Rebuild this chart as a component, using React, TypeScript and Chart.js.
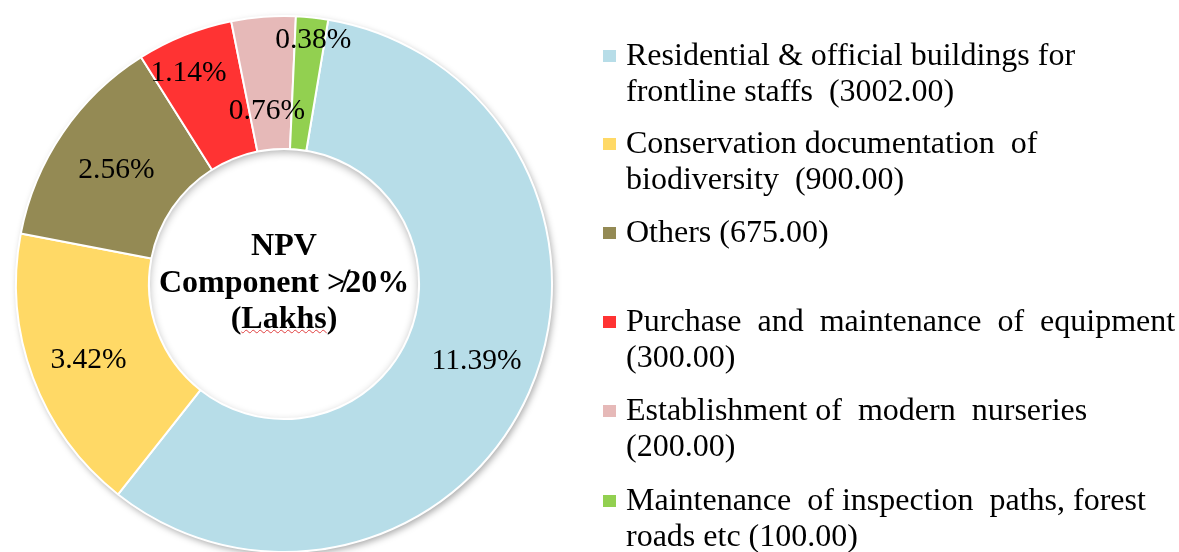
import React, { useEffect, useRef } from "react";
import { Chart, registerables } from "chart.js";

Chart.register(...registerables);

// ---------- data ----------
const categories = [
  "Residential & official buildings for\nfrontline staffs  ",
  "Conservation documentation  of\nbiodiversity  ",
  "Others ",
  "Purchase  and  maintenance  of  equipment\n",
  "Establishment of  modern  nurseries\n",
  "Maintenance  of inspection  paths, forest\nroads etc ",
];
const amounts = [3002.0, 900.0, 675.0, 300.0, 200.0, 100.0];
const percentLabels = ["11.39%", "3.42%", "2.56%", "1.14%", "0.76%", "0.38%"];
const centerTitle = ["NPV", "Component \u226F20%", "(Lakhs)"];

// ---------- styles ----------
const COLORS = ["#B7DDE8", "#FFD966", "#948A54", "#FF3333", "#E6B9B8", "#92D050"];
const LABEL_RADIUS = [0.772, 0.782, 0.757, 0.866, 0.653, 0.918];
const LABEL_ANGLE_SHIFT = [-2.4, -0.7, 0, -2.5, -1.2, 0.8];
const LEGEND_TOPS = [36, 124, 213, 302, 391, 481];
const JUSTIFY_FIRST = [false, false, false, true, false, false];
const SERIF = "'Liberation Serif', 'Times New Roman', 'DejaVu Serif', serif";

const W = 1179;
const H = 552;

const shadowPlugin = {
  id: "ringShadow",
  beforeDatasetsDraw(chart: any) {
    const arc = chart.getDatasetMeta(0).data[0];
    if (!arc) return;
    const { x, y, outerRadius } = arc.getProps(["x", "y", "outerRadius"], true);
    const ctx = chart.ctx;
    ctx.save();
    ctx.shadowColor = "rgba(0,0,0,0.35)";
    ctx.shadowBlur = 7;
    ctx.shadowOffsetX = 2;
    ctx.shadowOffsetY = 3;
    ctx.beginPath();
    ctx.arc(x, y, outerRadius, 0, Math.PI * 2);
    ctx.fillStyle = "#ffffff";
    ctx.fill();
    ctx.restore();
  },
  afterDatasetsDraw(chart: any) {
    const arc = chart.getDatasetMeta(0).data[0];
    if (!arc) return;
    const { x, y, innerRadius } = arc.getProps(["x", "y", "innerRadius"], true);
    const ctx = chart.ctx;
    ctx.save();
    ctx.beginPath();
    ctx.arc(x, y, innerRadius - 1, 0, Math.PI * 2);
    ctx.clip();
    ctx.beginPath();
    ctx.arc(x, y, innerRadius + 12, 0, Math.PI * 2);
    ctx.lineWidth = 24;
    ctx.strokeStyle = "#ffffff";
    ctx.shadowColor = "rgba(0,0,0,0.32)";
    ctx.shadowBlur = 8;
    ctx.shadowOffsetX = 0;
    ctx.shadowOffsetY = 3;
    ctx.stroke();
    ctx.restore();
  },
};

const labelPlugin = {
  id: "sliceLabels",
  afterDatasetsDraw(chart: any) {
    const meta = chart.getDatasetMeta(0);
    const ctx = chart.ctx;
    ctx.save();
    ctx.font = `29.5px ${SERIF}`;
    ctx.fillStyle = "#000000";
    ctx.textAlign = "center";
    ctx.textBaseline = "middle";
    meta.data.forEach((el: any, i: number) => {
      const { x, y, startAngle, endAngle, outerRadius } = el.getProps(
        ["x", "y", "startAngle", "endAngle", "outerRadius"],
        true
      );
      const mid = (startAngle + endAngle) / 2 + (LABEL_ANGLE_SHIFT[i] * Math.PI) / 180;
      const r = outerRadius * LABEL_RADIUS[i];
      ctx.fillText(percentLabels[i], x + r * Math.cos(mid), y + r * Math.sin(mid) + 1);
    });
    ctx.restore();
  },
};

export default function App() {
  const canvasRef = useRef<HTMLCanvasElement | null>(null);

  useEffect(() => {
    const canvas = canvasRef.current;
    if (!canvas) return;
    const chart = new Chart(canvas, {
      type: "doughnut",
      data: {
        labels: categories.map((c) => c.replace("\n", " ").trim()),
        datasets: [
          {
            data: amounts,
            backgroundColor: COLORS,
            borderColor: "#ffffff",
            borderWidth: 2,
          },
        ],
      },
      options: {
        responsive: false,
        animation: false,
        rotation: 9.5,
        cutout: "50.4%",
        radius: 268,
        layout: { padding: { left: 0, top: 16, right: W - 568, bottom: 0 } },
        plugins: {
          legend: { display: false },
          tooltip: { enabled: false },
        },
      },
      plugins: [shadowPlugin, labelPlugin],
    });
    return () => chart.destroy();
  }, []);

  return (
    <div
      style={{
        position: "fixed",
        left: 0,
        top: 0,
        width: W,
        height: H,
        overflow: "hidden",
        background: "#ffffff",
      }}
    >
      <canvas
        ref={canvasRef}
        width={W}
        height={H}
        style={{ position: "absolute", left: 0, top: 0, width: W, height: H }}
      />
      <div
        style={{
          position: "absolute",
          left: 84,
          top: 226,
          width: 400,
          textAlign: "center",
          fontFamily: SERIF,
          fontWeight: "bold",
          fontSize: 32,
          lineHeight: "36.5px",
          color: "#000",
          whiteSpace: "pre",
        }}
      >
        <div>{centerTitle[0]}</div>
        <div>{centerTitle[1]}</div>
        <div>
          (
          <span
            style={{
              textDecorationLine: "underline",
              textDecorationStyle: "wavy",
              textDecorationColor: "#e04040",
              textDecorationThickness: "1px",
            }}
          >
            {centerTitle[2].replace(/[()]/g, "")}
          </span>
          )
        </div>
      </div>
      {categories.map((cat, i) => {
        const parts = cat.split("\n");
        const amountText = `(${amounts[i].toFixed(2)})`;
        const lines =
          parts.length > 1 ? [parts[0], parts[1] + amountText] : [parts[0] + amountText];
        return (
          <div
            key={i}
            style={{
              position: "absolute",
              left: 603,
              top: LEGEND_TOPS[i],
              width: 570,
              fontFamily: SERIF,
              fontSize: 32,
              lineHeight: "36px",
              color: "#000",
            }}
          >
            <span
              style={{
                position: "absolute",
                left: 0,
                top: 14,
                width: 13,
                height: 12,
                background: COLORS[i],
              }}
            />
            {lines.map((ln, j) => (
              <div
                key={j}
                style={{
                  marginLeft: 23,
                  width: 547,
                  whiteSpace: "pre",
                  textAlign: j === 0 && JUSTIFY_FIRST[i] ? "justify" : "left",
                  textAlignLast: j === 0 && JUSTIFY_FIRST[i] ? "justify" : "auto",
                }}
              >
                {ln}
              </div>
            ))}
          </div>
        );
      })}
    </div>
  );
}
